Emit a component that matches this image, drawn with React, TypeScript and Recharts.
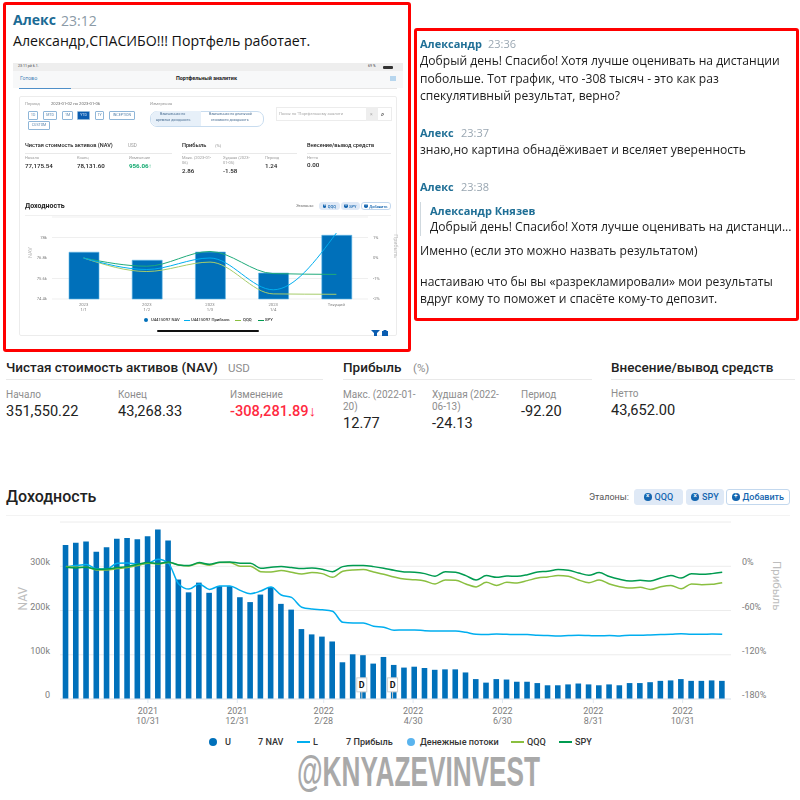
import React from 'react';
import {
  ComposedChart,
  Bar,
  Line,
  XAxis,
  YAxis,
  CartesianGrid,
  Legend,
  ReferenceDot,
} from 'recharts';

// main chart, one value per week starting 2021-09-05
const navValues = [
  348000, 353000, 356000, 333000, 343000, 362000, 364000, 361000, 368000, 383000, 358000, 270000, 241000,
  263000, 240000, 255000, 255000, 230000, 219000, 236000, 253000, 215000, 202000, 158000, 146000, 141000,
  130000, 83000, 101000, 99000, 80000, 95000, 77000, 71000, 73000, 70000, 66000, 67000, 67000, 60000, 45000,
  37000, 45000, 44000, 39000, 39000, 36000, 31000, 31000, 33000, 35000, 33000, 31000, 33000, 31000, 36000,
  36000, 38000, 41000, 42000, 45000, 41000, 41000, 42000, 41000,
];
const profitValues = [
  -0.9, 0.9, 2.3, -3.6, -3.6, 4.1, 4.5, 2.7, 4.1, 9.5, 4.1, -24, -31, -24, -31.4, -26.8, -26.8, -32.7, -37.3,
  -33.6, -28.2, -39, -42.3, -55.5, -58, -59, -61, -76, -76.8, -76.8, -81.4, -82.7, -86.8, -86.4, -86.4, -87.3,
  -87.7, -87.7, -87.7, -89.5, -92.3, -92.7, -91.8, -92.3, -92.7, -92.7, -93.6, -94, -94.5, -94, -93.6, -94,
  -94.3, -94, -94.5, -93.6, -93.6, -93.2, -92.7, -92.3, -91.4, -92.3, -92.3, -91.8, -92.3,
];
const qqqValues = [
  -0.5, -1.4, -1.4, -5, -5, -3.2, -1.8, 0.9, 4.1, 3.2, 5, 1.8, 0.5, 4.1, 1.4, 5, 5, 0, 0, -7.3, -7.7, -5.9,
  -8.2, -10.5, -8.6, -10, -15, -6.8, -5, -4.5, -7.7, -10.9, -14.5, -17.3, -18.2, -20, -24, -18.6, -19, -24,
  -28, -21.8, -26, -21.8, -22.7, -19.5, -16, -14.5, -12.7, -13.6, -18.6, -22.3, -18.6, -24, -27.7, -29.5,
  -28.6, -31.4, -27.7, -26, -30.5, -24, -25, -24.5, -22.3,
];
const spyValues = [
  -1.4, -2.3, -1.4, -4.1, -3.6, -1.8, -0.5, 2.7, 5, 3.6, 5.9, 1.8, 0.9, 5, 2.7, 5.5, 5.9, 4.1, 4.1, -2.7, -1.4,
  -0.5, -1.8, -3.2, -2.3, -4.1, -7.3, -0.5, 0.9, 0.9, -0.5, -2.7, -5.5, -7.7, -8.2, -10, -13.6, -7.3, -8.2,
  -12.7, -18.6, -12.7, -15, -13.2, -13.6, -11.4, -7.7, -6.8, -4.5, -5.5, -9.1, -12.3, -8.6, -14, -17.7, -20,
  -19, -20, -16, -12.7, -16, -10, -11, -10, -8.2,
];
const tickDays = [56, 117, 176, 237, 298, 360, 421];
const tickYears = ['2021', '2021', '2022', '2022', '2022', '2022', '2022'];
const tickDates = ['10/31', '12/31', '2/28', '4/30', '6/30', '8/31', '10/31'];
const navTicks = [0, 100000, 200000, 300000, 400000];
const profitTicks = [-180, -120, -60, 0, 60];
const cashFlowDays = [202, 223];
const cashFlowLevel = 32000;

// small chart inside the screenshot
const miniCats = ['1/1', '1/2', '1/3', '1/4', 'Текущий'];
const miniNav = [77140, 76670, 77150, 75920, 78130];
const miniProfit = [0, -0.56, 0, -1.55, 1.22];
const miniQqq = [0, -0.66, -0.2, -1.75, -1.77];
const miniSpy = [0, -0.4, 0.32, -0.76, -0.8];
const miniNavTicks = [74400, 75600, 76800, 78000, 79200];
const miniProfitTicks = [-2, -1, 0, 1, 2];

const chartData = navValues.map((nav, i) => ({
  day: i * 7,
  nav,
  profit: profitValues[i],
  qqq: qqqValues[i],
  spy: spyValues[i],
}));

const miniData = miniCats.map((cat, i) => ({
  cat,
  nav: miniNav[i],
  profit: miniProfit[i],
  qqq: miniQqq[i],
  spy: miniSpy[i],
}));

const BLUE = '#0070ba';
const SKY = '#00aeef';
const QQQ = '#8abf40';
const SPY = '#009b50';
const TICK = '#7d7d7d';
const MAIN_FONT = 'Roboto, sans-serif';
const CHAT_FONT = '"Open Sans", sans-serif';

// text placed by its left edge and vertical centre
function T({ x, y, s, c = '#222', w = 400, f = MAIN_FONT, children }: any) {
  return (
    <div
      style={{
        position: 'absolute',
        left: x,
        top: y,
        transform: 'translateY(-50%)',
        fontSize: s,
        color: c,
        fontWeight: w,
        fontFamily: f,
        lineHeight: 1,
        whiteSpace: 'nowrap',
      }}
    >
      {children}
    </div>
  );
}

function Box({ x, y, w, h, bg = 'transparent', b = 'none', r = 0 }: any) {
  return (
    <div
      style={{
        position: 'absolute',
        left: x,
        top: y,
        width: w,
        height: h,
        background: bg,
        border: b,
        borderRadius: r,
        boxSizing: 'border-box',
      }}
    />
  );
}

function Pill({ x, y, w, h, label, s, filled }: any) {
  return (
    <div
      style={{
        position: 'absolute',
        left: x,
        top: y,
        width: w,
        height: h,
        boxSizing: 'border-box',
        background: filled ? '#dfe9f6' : '#fff',
        border: `1px solid ${filled ? '#dfe9f6' : '#c3d8ee'}`,
        borderRadius: 3,
        display: 'flex',
        alignItems: 'center',
        justifyContent: 'center',
        gap: s / 3,
        fontSize: s,
        fontWeight: 500,
        color: '#1566b0',
        fontFamily: MAIN_FONT,
      }}
    >
      <span
        style={{
          width: s * 0.85,
          height: s * 0.85,
          borderRadius: '50%',
          background: '#1566b0',
          color: '#fff',
          fontSize: s * 0.7,
          lineHeight: `${s * 0.8}px`,
          textAlign: 'center',
        }}
      >
        {filled ? '×' : '+'}
      </span>
      {label}
    </div>
  );
}

function NavAxisTick({ x, y, payload }: any) {
  const i = tickDays.indexOf(payload.value);
  return (
    <text x={x} y={y} textAnchor="middle" fontSize={9} fill={TICK} fontFamily={MAIN_FONT}>
      <tspan x={x} dy={9}>{tickYears[i]}</tspan>
      <tspan x={x} dy={10}>{tickDates[i]}</tspan>
    </text>
  );
}

function MiniAxisTick({ x, y, payload }: any) {
  const isNow = payload.value === 'Текущий';
  return (
    <text x={x} y={y} textAnchor="middle" fontSize={4.2} fill={TICK} fontFamily={MAIN_FONT}>
      <tspan x={x} dy={5}>{isNow ? payload.value : '2023'}</tspan>
      {!isNow && <tspan x={x} dy={5}>{payload.value}</tspan>}
    </text>
  );
}

function CashFlowMark({ cx, cy }: any) {
  return (
    <g>
      <line x1={cx} x2={cx} y1={cy + 6} y2={cy + 14} stroke="#cfcfcf" />
      <rect x={cx - 5} y={cy - 7} width={10} height={14} fill="#fff" stroke="#d0d0d0" />
      <text x={cx} y={cy + 3} textAnchor="middle" fontSize={9} fontWeight={700} fill="#111" fontFamily={MAIN_FONT}>
        D
      </text>
    </g>
  );
}

function MainLegend() {
  const txt = { position: 'absolute', top: 0, fontSize: 9.1, fontWeight: 500, color: '#333', lineHeight: '12px', fontFamily: MAIN_FONT } as any;
  const dot = (left: number, bg: string) => (
    <span style={{ position: 'absolute', left, top: 2, width: 8, height: 8, borderRadius: '50%', background: bg }} />
  );
  const dash = (left: number, bg: string) => (
    <span style={{ position: 'absolute', left, top: 5, width: 13, height: 2, background: bg }} />
  );
  return (
    <div style={{ position: 'relative', top: 7, height: 12 }}>
      {dot(209, BLUE)}
      <span style={{ ...txt, left: 225 }}>U</span>
      <span style={{ ...txt, left: 258 }}>7 NAV</span>
      {dash(297, SKY)}
      <span style={{ ...txt, left: 313 }}>L</span>
      <span style={{ ...txt, left: 346 }}>7 Прибыль</span>
      {dot(407, '#5ab4ee')}
      <span style={{ ...txt, left: 420 }}>Денежные потоки</span>
      {dash(511, QQQ)}
      <span style={{ ...txt, left: 527 }}>QQQ</span>
      {dash(559, SPY)}
      <span style={{ ...txt, left: 575 }}>SPY</span>
    </div>
  );
}

function MiniLegend() {
  const txt = { position: 'absolute', top: 0, fontSize: 4.2, fontWeight: 500, color: '#333', lineHeight: '6px', fontFamily: MAIN_FONT } as any;
  const dash = (left: number, bg: string) => (
    <span style={{ position: 'absolute', left, top: 2.5, width: 6, height: 1, background: bg }} />
  );
  return (
    <div style={{ position: 'relative', top: -2, height: 6 }}>
      <span style={{ position: 'absolute', left: 129, top: 1, width: 4, height: 4, borderRadius: '50%', background: BLUE }} />
      <span style={{ ...txt, left: 136 }}>U4415097 NAV</span>
      {dash(169, SKY)}
      <span style={{ ...txt, left: 176 }}>U4415097 Прибыль</span>
      {dash(220, QQQ)}
      <span style={{ ...txt, left: 228 }}>QQQ</span>
      {dash(243, SPY)}
      <span style={{ ...txt, left: 250 }}>SPY</span>
    </div>
  );
}

function MainChart() {
  return (
    <ComposedChart
      width={800}
      height={245}
      data={chartData}
      margin={{ top: 12, right: 0, bottom: 0, left: 0 }}
      style={{ position: 'absolute', left: 0, top: 510 }}
    >
      <CartesianGrid vertical={false} stroke="#ececec" yAxisId="nav" />
      <XAxis
        dataKey="day"
        type="number"
        domain={[-4, 454]}
        ticks={tickDays}
        interval={0}
        height={30}
        tick={<NavAxisTick />}
        tickSize={4}
        stroke="#dfe8f2"
      />
      <YAxis
        yAxisId="nav"
        domain={[0, 400000]}
        ticks={navTicks}
        width={60}
        axisLine={false}
        tickLine={false}
        tickSize={0}
        tickMargin={10}
        tick={{ fontSize: 9, fill: TICK, dy: -4, fontFamily: MAIN_FONT }}
        tickFormatter={(v: number) => (v === 400000 ? '' : v === 0 ? '0' : `${v / 1000}k`)}
        label={{ value: 'NAV', angle: -90, position: 'insideLeft', offset: 23, fontSize: 12, fill: '#bdbdbd', fontFamily: MAIN_FONT }}
      />
      <YAxis
        yAxisId="profit"
        orientation="right"
        domain={[-180, 60]}
        ticks={profitTicks}
        width={69}
        axisLine={false}
        tickLine={false}
        tickSize={0}
        tickMargin={11}
        tick={{ fontSize: 9, fill: TICK, dy: -4, fontFamily: MAIN_FONT }}
        tickFormatter={(v: number) => (v === 60 ? '' : `${v}%`)}
        label={{ value: 'Прибыль', angle: 90, position: 'insideRight', offset: 23, fontSize: 11.5, fill: '#bdbdbd', fontFamily: MAIN_FONT }}
      />
      <Bar yAxisId="nav" dataKey="nav" fill={BLUE} barSize={5.6} isAnimationActive={false} />
      <Line yAxisId="profit" dataKey="profit" type="monotone" stroke={SKY} strokeWidth={1.5} dot={false} isAnimationActive={false} />
      <Line yAxisId="profit" dataKey="qqq" type="monotone" stroke={QQQ} strokeWidth={1.5} dot={false} isAnimationActive={false} />
      <Line yAxisId="profit" dataKey="spy" type="monotone" stroke={SPY} strokeWidth={1.5} dot={false} isAnimationActive={false} />
      {cashFlowDays.map((d) => (
        <ReferenceDot key={d} yAxisId="nav" x={d} y={cashFlowLevel} shape={<CashFlowMark />} />
      ))}
      <Legend verticalAlign="bottom" height={26} content={<MainLegend />} />
    </ComposedChart>
  );
}

function MiniChart() {
  return (
    <ComposedChart
      width={393}
      height={132}
      data={miniData}
      margin={{ top: 12, right: 0, bottom: 0, left: 0 }}
      style={{ position: 'absolute', left: 15, top: 205 }}
    >
      <CartesianGrid vertical={false} stroke="#efefef" yAxisId="nav" />
      <XAxis dataKey="cat" interval={0} height={20} tick={<MiniAxisTick />} tickLine={false} tickSize={0} axisLine={false} />
      <YAxis
        yAxisId="nav"
        domain={[74400, 79200]}
        ticks={miniNavTicks}
        width={37}
        axisLine={false}
        tickLine={false}
        tickSize={0}
        tickMargin={5}
        tick={{ fontSize: 4.2, fill: TICK, fontFamily: MAIN_FONT }}
        tickFormatter={(v: number) => (v === 79200 ? '' : `${v / 1000}k`)}
        label={{ value: 'NAV', angle: -90, position: 'insideLeft', offset: 15, fontSize: 5.5, fill: '#bbb', fontFamily: MAIN_FONT }}
      />
      <YAxis
        yAxisId="profit"
        orientation="right"
        domain={[-2, 2]}
        ticks={miniProfitTicks}
        width={40}
        axisLine={false}
        tickLine={false}
        tickSize={0}
        tickMargin={5}
        tick={{ fontSize: 4.2, fill: TICK, fontFamily: MAIN_FONT }}
        tickFormatter={(v: number) => (v === 2 ? '' : `${v}%`)}
        label={{ value: 'Прибыль', angle: 90, position: 'insideRight', offset: 12, fontSize: 5.5, fill: '#bbb', fontFamily: MAIN_FONT }}
      />
      <Bar yAxisId="nav" dataKey="nav" fill={BLUE} stroke="#5cb6e6" strokeWidth={0.6} barSize={30} isAnimationActive={false} />
      <Line yAxisId="profit" dataKey="qqq" type="monotone" stroke="#a6cc6a" strokeWidth={1} dot={false} isAnimationActive={false} />
      <Line yAxisId="profit" dataKey="spy" type="monotone" stroke="#1faa7a" strokeWidth={1} dot={false} isAnimationActive={false} />
      <Line yAxisId="profit" dataKey="profit" type="monotone" stroke={SKY} strokeWidth={1} dot={false} isAnimationActive={false} />
      <Legend verticalAlign="bottom" height={18} content={<MiniLegend />} />
    </ComposedChart>
  );
}

function Screenshot() {
  const grey = '#9a9a9a';
  const btn = (x: number, y: number, w: number, label: string, on = false) => (
    <div
      style={{
        position: 'absolute',
        left: x,
        top: y,
        width: w,
        height: 8.5,
        boxSizing: 'border-box',
        border: '0.7px solid #8fb6d8',
        borderRadius: 1,
        background: on ? '#0a5cb0' : '#fff',
        color: on ? '#cfe3f7' : '#5b86ad',
        fontSize: 3.6,
        lineHeight: '7.5px',
        textAlign: 'center',
        fontFamily: MAIN_FONT,
      }}
    >
      {label}
    </div>
  );
  return (
    <div style={{ position: 'absolute', left: 0, top: 0, width: 415, height: 350, filter: 'blur(0.35px)' }}>
      <Box x={13} y={63} w={390} h={8} bg="#eeeeee" />
      <T x={18} y={67} s={3.6} c="#444">23:11 рй 6.1.</T>
      <T x={368} y={67} s={3.6} c="#444">69 %</T>
      <Box x={383} y={65.5} w={10} h={3.5} bg="#333" r={1} />
      <Box x={13} y={71} w={390} h={17} bg="#f7f8f9" />
      <Box x={19} y={88} w={378} h={0.8} bg="#e6e6e6" />
      <Box x={19} y={88} w={52} h={1} bg="#4f8fc8" />
      <T x={20} y={79} s={5.4} c="#3f7fb5">Готово</T>
      <T x={176} y={79} s={5.4} w={700} c="#222">Портфельный аналитик</T>
      <Box x={390} y={76} w={6} h={5} bg="#b7d6ee" />

      <Box x={19} y={96} w={378} h={240} b="0.7px solid #ececec" r={2} />
      <T x={25} y={104} s={4.2} c={grey}>Период</T>
      <T x={51} y={104} s={4.2} c="#666">2023-01-02 по 2023-01-06</T>
      <T x={150} y={104} s={4.2} c={grey}>Измерения</T>
      {btn(28, 111, 10, '1D')}
      {btn(43, 111, 14, 'MTD')}
      {btn(62, 111, 11, '1M')}
      {btn(77, 111, 13, 'YTD', true)}
      {btn(95, 111, 9, '1Y')}
      {btn(109, 111, 26, 'INCEPTION')}
      {btn(28, 121, 22, 'CUSTOM')}
      <Box x={150} y={110.5} w={114} h={16} b="0.7px solid #c8dcef" r={7} />
      <Box x={150.5} y={111} w={50} h={15} bg="#e7f0f9" r="7px 0 0 7px" />
      <T x={160} y={115} s={3.5} c="#4b6f93">Взвешенная по</T>
      <T x={156} y={121} s={3.5} c="#4b6f93">времени доходность</T>
      <T x={209} y={115} s={3.5} c="#4b6f93">Взвешенная по денежной</T>
      <T x={211} y={121} s={3.5} c="#4b6f93">стоимости доходность</T>
      <Box x={276} y={107} w={116} h={14} b="0.7px solid #ececec" />
      <T x={279} y={113.5} s={4} c="#a9a9a9">Поиск по "Портфельному аналити</T>
      <Box x={366} y={107} w={12} h={14} bg="#eeeeee" />
      <T x={370} y={113.5} s={5} c="#aaa">×</T>
      <T x={381} y={113.5} s={6} c="#444" w={700}>⌕</T>

      <T x={25} y={146} s={5.6} w={500}>Чистая стоимость активов (NAV)</T>
      <T x={128} y={146} s={4.6} c={grey}>USD</T>
      <Box x={25} y={153} w={147} h={0.7} bg="#e9e9e9" />
      <T x={25} y={158} s={4} c={grey}>Начало</T>
      <T x={25} y={166} s={6.2} w={500}>77,175.54</T>
      <T x={77} y={158} s={4} c={grey}>Конец</T>
      <T x={77} y={166} s={6.2} w={500}>78,131.60</T>
      <T x={129} y={158} s={4} c={grey}>Изменение</T>
      <T x={129} y={166} s={6.2} w={700} c="#12a96f">956.06↑</T>

      <T x={182} y={146} s={5.6} w={500}>Прибыль</T>
      <T x={215} y={146} s={4.4} c={grey}>(%)</T>
      <Box x={182} y={153} w={115} h={0.7} bg="#e9e9e9" />
      <T x={182} y={158} s={4} c={grey}>Макс. (2023-01-</T>
      <T x={182} y={163} s={4} c={grey}>06)</T>
      <T x={182} y={171} s={6.2} w={500}>2.86</T>
      <T x={223} y={158} s={4} c={grey}>Худшая (2023-</T>
      <T x={223} y={163} s={4} c={grey}>01-05)</T>
      <T x={223} y={171} s={6.2} w={500}>-1.58</T>
      <T x={265} y={158} s={4} c={grey}>Период</T>
      <T x={265} y={166} s={6.2} w={500}>1.24</T>

      <T x={307} y={146} s={5.6} w={500}>Внесение/вывод средств</T>
      <Box x={307} y={153} w={84} h={0.7} bg="#e9e9e9" />
      <T x={307} y={158} s={4} c={grey}>Нетто</T>
      <T x={307} y={165} s={6.2} w={500}>0.00</T>

      <T x={25} y={206} s={7} w={700}>Доходность</T>
      <T x={296} y={206} s={4} c="#666">Эталоны:</T>
      <Pill x={319} y={202} w={21} h={8} label="QQQ" s={4} filled />
      <Pill x={341} y={202} w={19} h={8} label="SPY" s={4} filled />
      <Pill x={361} y={202} w={30} h={8} label="Добавить" s={4} />
      <Box x={25} y={215} w={366} h={0.7} bg="#f0f0f0" />

      <MiniChart />

      <Box x={157} y={330} w={102} h={2} bg="#111" r={1} />
      <svg width="30" height="8" style={{ position: 'absolute', left: 371, top: 329 }}>
        <polygon points="0,1 9,1 6,4 6,7 3,7 3,4" fill="#0a5cb0" />
        <rect x="11" y="2" width="6" height="5" fill="#0a5cb0" />
        <rect x="12.5" y="1" width="3" height="1" fill="#0a5cb0" />
      </svg>
    </div>
  );
}

function ChatLeft() {
  return (
    <>
      <Box x={3} y={2} w={408} h={350} b="3px solid #ff0000" r={3} />
      <T x={13} y={20} s={14} w={700} c="#1b6a94" f={CHAT_FONT}>Алекс</T>
      <T x={61} y={21} s={14} c="#8b9aa6" f={CHAT_FONT}>23:12</T>
      <T x={13} y={41} s={14.15} c="#111" f={CHAT_FONT}>Александр,СПАСИБО!!! Портфель работает.</T>
      <Screenshot />
    </>
  );
}

function ChatRight() {
  const text = (y: number, t: string, x = 420) => (
    <T x={x} y={y} s={12.1} c="#1c1c1c" f={CHAT_FONT}>{t}</T>
  );
  const head = (y: number, name: string, time: string, tx: number) => (
    <>
      <T x={420} y={y} s={11} w={700} c="#1f6f96" f={CHAT_FONT}>{name}</T>
      <T x={tx} y={y} s={11} c="#9aa7b2" f={CHAT_FONT}>{time}</T>
    </>
  );
  return (
    <>
      <Box x={414} y={28} w={385} h={293} b="3px solid #ff0000" r={3} />
      {head(43, 'Александр', '23:36', 488)}
      {text(61, 'Добрый день! Спасибо! Хотя лучше оценивать на дистанции')}
      {text(78.5, 'побольше. Тот график, что -308 тысяч - это как раз')}
      {text(95.5, 'спекулятивный результат, верно?')}
      {head(132, 'Алекс', '23:37', 461)}
      {text(150, 'знаю,но картина обнадёживает и вселяет уверенность')}
      {head(186, 'Алекс', '23:38', 461)}
      <Box x={420} y={202} w={1} h={34} bg="#cfd8de" />
      <T x={430} y={210} s={11} w={700} c="#1f6f96" f={CHAT_FONT}>Александр Князев</T>
      {text(227, 'Добрый день! Спасибо! Хотя лучше оценивать на дистанци...', 430)}
      {text(251, 'Именно (если это можно назвать результатом)')}
      {text(282, 'настаиваю что бы вы «разрекламировали» мои результаты')}
      {text(299, 'вдруг кому то поможет и спасёте кому-то депозит.')}
    </>
  );
}

function Stats() {
  const grey = '#8d8d8d';
  return (
    <>
      <T x={6} y={368} s={13.5} w={500}>Чистая стоимость активов (NAV)</T>
      <T x={228} y={369} s={11.5} c={grey}>USD</T>
      <Box x={6} y={379} w={317} h={1} bg="#e9e9e9" />
      <T x={6} y={395} s={10} c={grey}>Начало</T>
      <T x={6} y={411} s={14.6}>351,550.22</T>
      <T x={118} y={395} s={10} c={grey}>Конец</T>
      <T x={118} y={411} s={14.6}>43,268.33</T>
      <T x={230} y={395} s={10} c={grey}>Изменение</T>
      <T x={230} y={411} s={14.6} w={500} c="#ff2a3f">-308,281.89↓</T>

      <T x={343} y={368} s={13.5} w={500}>Прибыль</T>
      <T x={413} y={369} s={11.5} c={grey}>(%)</T>
      <Box x={343} y={379} w={249} h={1} bg="#e9e9e9" />
      <T x={343} y={395} s={10} c={grey}>Макс. (2022-01-</T>
      <T x={343} y={407} s={10} c={grey}>20)</T>
      <T x={343} y={423} s={14.6}>12.77</T>
      <T x={432} y={395} s={10} c={grey}>Худшая (2022-</T>
      <T x={432} y={407} s={10} c={grey}>06-13)</T>
      <T x={432} y={423} s={14.6}>-24.13</T>
      <T x={521} y={395} s={10} c={grey}>Период</T>
      <T x={521} y={411} s={14.6}>-92.20</T>

      <T x={611} y={368} s={13.5} w={500}>Внесение/вывод средств</T>
      <Box x={611} y={379} w={184} h={1} bg="#e9e9e9" />
      <T x={611} y={394} s={10} c={grey}>Нетто</T>
      <T x={611} y={410} s={14.6}>43,652.00</T>

      <T x={6} y={497} s={16} w={500}>Доходность</T>
      <T x={589} y={497} s={9} c="#555">Эталоны:</T>
      <Pill x={634} y={489} w={49} h={16} label="QQQ" s={9} filled />
      <Pill x={686} y={489} w={38} h={16} label="SPY" s={9} filled />
      <Pill x={726} y={489} w={64} h={16} label="Добавить" s={9} />
      <Box x={6} y={515} w={784} h={1} bg="#f3f3f3" />
    </>
  );
}

export default function App() {
  return (
    <div style={{ position: 'absolute', left: 0, top: 0, width: 800, height: 800, background: '#fff', overflow: 'hidden' }}>
      <ChatLeft />
      <ChatRight />
      <Stats />
      <MainChart />
      <div
        style={{
          position: 'absolute',
          left: 297,
          top: 750,
          fontFamily: '"Liberation Sans", sans-serif',
          fontSize: 42,
          fontWeight: 700,
          lineHeight: '44px',
          color: '#a9a9a9',
          whiteSpace: 'nowrap',
          transform: 'scaleX(0.624)',
          transformOrigin: 'left center',
        }}
      >
        @KNYAZEVINVEST
      </div>
    </div>
  );
}
